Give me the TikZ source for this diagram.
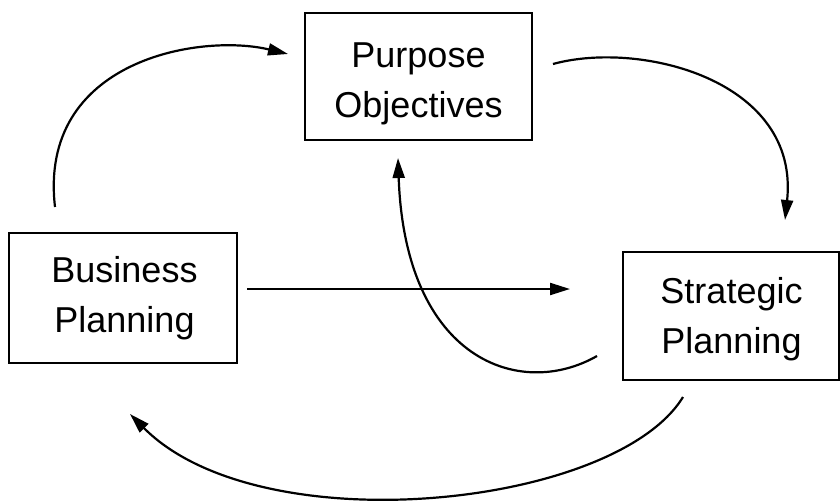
\documentclass[tikz,border=0pt]{standalone}
\usepackage{fontspec}
\setmainfont{Liberation Sans}
\usetikzlibrary{arrows.meta}
\begin{document}
\begin{tikzpicture}[x=1pt,y=-1pt,
  box/.style={draw, line width=2.2pt, inner sep=0pt},
  lbl/.style={align=center, font=\fontsize{36}{50}\selectfont, inner sep=0pt},
  conn/.style={line width=2.2pt, -{Triangle[length=20pt,width=12pt]}}]
\useasboundingbox (0,0) rectangle (840,501);
% boxes
\node[box, minimum width=227pt, minimum height=127pt] (po) at (418.5,76.5) {};
\node[box, minimum width=228pt, minimum height=130pt] (bp) at (123,298) {};
\node[box, minimum width=216pt, minimum height=128pt] (sp) at (731,316) {};
% texts
\node[lbl] (pot) at (418.5,84) {Purpose\\Objectives};
\node[lbl] (bpt) at (124.5,298) {Business\\Planning};
\node[lbl] (spt) at (731.5,319) {Strategic\\Planning};
% connector end points
\coordinate (a1s) at (55,207);
\coordinate (a1e) at (288,54);
\coordinate (a2s) at (553,64);
\coordinate (a2e) at (785,220);
\coordinate (a3s) at (247,289);
\coordinate (a3e) at (570,289);
\coordinate (a4s) at (597,356);
\coordinate (a4e) at (398,158);
\coordinate (a5s) at (683,397);
\coordinate (a5e) at (130,414);
% connectors
\draw[conn] (a1s) .. controls (38,60) and (200,33) .. (a1e);
\draw[conn] (a2s) .. controls (640,40) and (800,80) .. (a2e);
\draw[conn] (a3s) -- (a3e);
\draw[conn] (a4s) .. controls (520,400) and (405,360) .. (a4e);
\draw[conn] (a5s) .. controls (615,508) and (260,545) .. (a5e);
\end{tikzpicture}
\end{document}
